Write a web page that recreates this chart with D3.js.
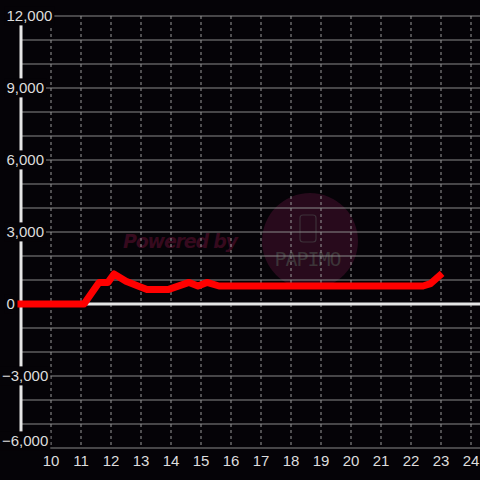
<!DOCTYPE html>
<html>
<head>
<meta charset="utf-8">
<script src="https://cdn.jsdelivr.net/npm/d3@7"></script>
<style>
  html, body { margin: 0; padding: 0; background: #050307; }
  svg { display: block; }
</style>
</head>
<body>
<svg id="chart" width="480" height="480"></svg>
<script>
// hour of day vs value
hours  = [9, 11.1, 11.6, 11.9, 12.1, 12.5, 12.9, 13.2, 13.9, 14.6, 14.9, 15.2, 15.6, 22.4, 22.65, 22.95]
values = [0, 0, 900, 900, 1250, 950, 750, 600, 600, 900, 750, 900, 750, 750, 850, 1180]
xTicks = [10, 11, 12, 13, 14, 15, 16, 17, 18, 19, 20, 21, 22, 23, 24]
yLabelTicks = [12000, 9000, 6000, 3000, 0, -3000, -6000]
yGridTicks = d3.range(-6000, 12001, 1000)

svg = d3.select("#chart")
width = +svg.attr("width")
height = +svg.attr("height")

x = d3.scaleLinear().domain([9, 24.3]).range([21, 480])
y = d3.scaleLinear().domain([-6000, 12000]).range([448, 16])

svg.append("rect").attr("width", width).attr("height", height).attr("fill", "#050307")

// watermark
wm = svg.append("g")
wm.append("circle")
  .attr("cx", 310).attr("cy", 241).attr("r", 48)
  .attr("fill", "#280a1c")
wm.append("rect")
  .attr("x", 300).attr("y", 215).attr("width", 16).attr("height", 27).attr("rx", 3)
  .attr("fill", "none").attr("stroke", "#3c3038").attr("stroke-width", 1.2)
wm.append("text")
  .attr("x", 308).attr("y", 266)
  .attr("text-anchor", "middle")
  .attr("font-family", "DejaVu Sans Mono")
  .attr("font-size", 20)
  .attr("textLength", 67)
  .attr("fill", "#3c3438")
  .text("PAPIMO")
wm.append("text")
  .attr("x", 123).attr("y", 248)
  .attr("font-family", "DejaVu Sans")
  .attr("font-weight", "bold")
  .attr("font-style", "italic")
  .attr("font-size", 19)
  .attr("textLength", 115)
  .attr("fill", "#360a1e")
  .text("Powered by")

// horizontal grid
svg.append("g")
  .selectAll("line")
  .data(yGridTicks)
  .enter().append("line")
  .attr("x1", x(9)).attr("x2", width)
  .attr("y1", d => y(d)).attr("y2", d => y(d))
  .attr("stroke", "#8a8a8a")
  .attr("stroke-width", 1)

// vertical dashed grid
svg.append("g")
  .selectAll("line")
  .data(xTicks)
  .enter().append("line")
  .attr("x1", d => x(d)).attr("x2", d => x(d))
  .attr("y1", y(12000)).attr("y2", y(-6000))
  .attr("stroke", "#9a9a9a")
  .attr("stroke-width", 1)
  .attr("stroke-dasharray", "3,3")

// zero line
svg.append("line")
  .attr("x1", x(9)).attr("x2", width)
  .attr("y1", y(0)).attr("y2", y(0))
  .attr("stroke", "#e6e6e6")
  .attr("stroke-width", 3)

// y axis line
svg.append("line")
  .attr("x1", x(9)).attr("x2", x(9))
  .attr("y1", y(12000)).attr("y2", y(-6000))
  .attr("stroke", "#e6e6e6")
  .attr("stroke-width", 3)

// data line
line = d3.line()
  .x((d, i) => x(hours[i]))
  .y(d => y(d))
svg.append("path")
  .datum(values)
  .attr("fill", "none")
  .attr("stroke", "#ff0000")
  .attr("stroke-width", 7)
  .attr("stroke-linejoin", "round")
  .attr("stroke-linecap", "square")
  .attr("d", line)

// y labels with background (bottom label nudged up to stay above x labels)
yl = svg.append("g")
  .selectAll("g")
  .data(yLabelTicks)
  .enter().append("g")
yl.append("text")
  .attr("x", d => d < 0 ? 2 : 6.5)
  .attr("y", d => y(d) - (d === -6000 ? 7 : 0))
  .attr("dy", "0.36em")
  .attr("font-family", "Liberation Sans, Arial, sans-serif")
  .attr("font-size", 15)
  .attr("fill", "#dddddd")
  .text(d => d3.format(",")(d))
  .each(function () {
    const b = this.getBBox()
    d3.select(this.parentNode).insert("rect", "text")
      .attr("x", b.x - 2).attr("y", b.y - 1)
      .attr("width", b.width + 4).attr("height", b.height + 2)
      .attr("fill", "#050307")
  })

// x labels
svg.append("g")
  .selectAll("text")
  .data(xTicks)
  .enter().append("text")
  .attr("x", d => x(d))
  .attr("y", 466)
  .attr("text-anchor", "middle")
  .attr("font-family", "Liberation Sans, Arial, sans-serif")
  .attr("font-size", 15)
  .attr("fill", "#dddddd")
  .text(d => d)
</script>
</body>
</html>
